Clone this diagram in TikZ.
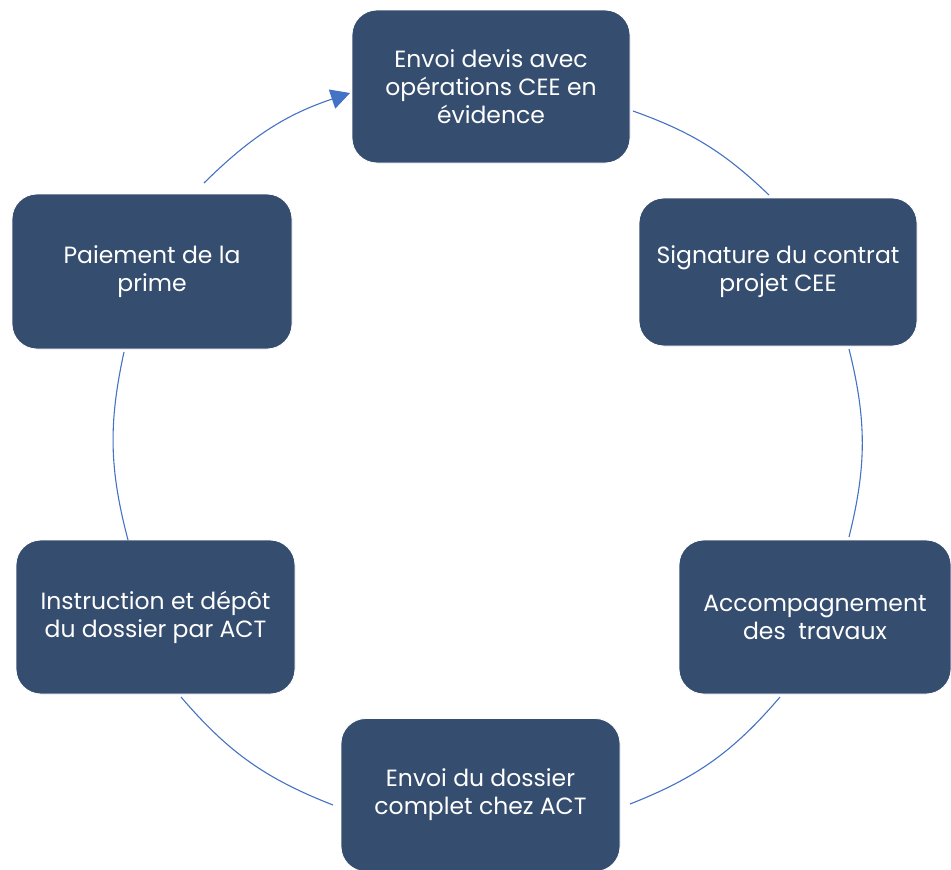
\documentclass[tikz,border=0pt]{standalone}
\usepackage{fontspec}
\setmainfont{Poppins}
\usetikzlibrary{arrows.meta}
\definecolor{boxblue}{RGB}{53,77,110}
\definecolor{arcblue}{RGB}{68,114,196}
\begin{document}
\begin{tikzpicture}[x=1pt,y=-1pt,
  stepbox/.style={fill=boxblue, draw=white, line width=0.8pt, rounded corners=25pt,
    text=white, align=center, minimum width=278pt, minimum height=153pt,
    inner sep=0pt, font=\fontsize{23.5}{28}\selectfont},
  arcline/.style={draw=arcblue, line width=1.1pt}]
\useasboundingbox (0,0) rectangle (951,870);
\clip (0,0) rectangle (951,870);
\node[stepbox] (envoi) at (491,86.5) {Envoi devis avec\\opérations CEE en\\évidence};
\node[stepbox, minimum height=148pt] (sign) at (778,272) {Signature du contrat\\projet CEE};
\node[stepbox, minimum width=272pt, minimum height=154pt] (acc) at (815,617) {Accompagnement\\des~ travaux};
\node[stepbox, minimum width=279pt] (dossier) at (480.5,795) {Envoi du dossier\\complet chez ACT};
\node[stepbox, minimum width=279pt, minimum height=154pt] (instr) at (155.5,617) {Instruction et dépôt\\du dossier par ACT};
\node[stepbox, minimum width=280pt, minimum height=155pt] (paie) at (152,271.5) {Paiement de la\\prime};
\coordinate (a1s) at (633,111); \coordinate (a1e) at (769,195);
\coordinate (a2s) at (849,349); \coordinate (a2e) at (849,537);
\coordinate (a3s) at (780,697); \coordinate (a3e) at (630,804);
\coordinate (a4s) at (333,805); \coordinate (a4e) at (181,697);
\coordinate (a5s) at (128,540); \coordinate (a5e) at (124,352);
\coordinate (a6s) at (204,183); \coordinate (a6e) at (350,93);
\draw[arcline] (a1s) to[bend left=12] (a1e);
\draw[arcline] (a2s) to[bend left=14] (a2e);
\draw[arcline] (a3s) to[bend left=14] (a3e);
\draw[arcline] (a4s) to[bend left=14] (a4e);
\draw[arcline] (a5s) to[bend left=13.5] (a5e);
\draw[arcline, -{Triangle[length=19pt,width=20pt]}] (a6s) to[bend left=13] (a6e);
\end{tikzpicture}
\end{document}
